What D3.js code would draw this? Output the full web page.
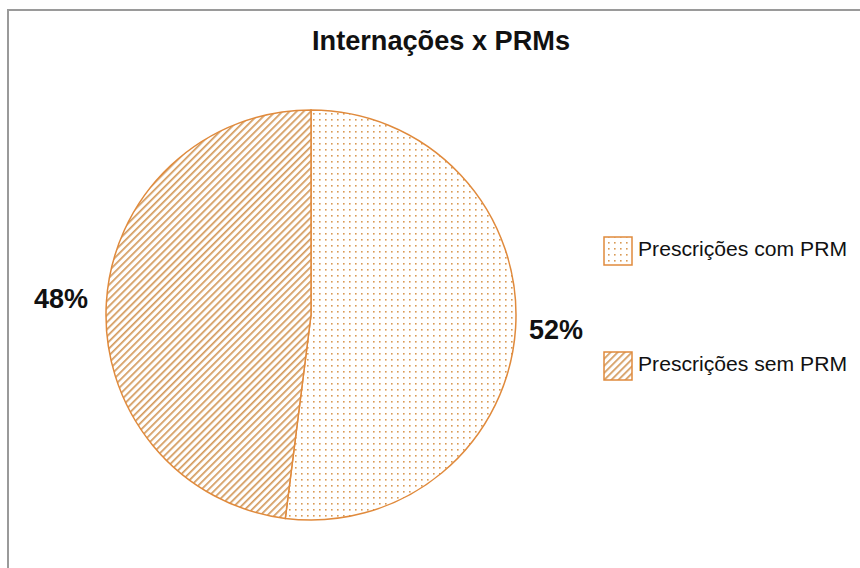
<!DOCTYPE html>
<html><head><meta charset="utf-8">
<script src="https://cdn.jsdelivr.net/npm/d3@7"></script>
<style>html,body{margin:0;padding:0;background:#fff;}svg{display:block;}</style>
</head><body>
<svg id="chart" width="860" height="568"></svg>
<script>
const title = "Internações x PRMs";
const categories = ["Prescrições com PRM", "Prescrições sem PRM"];
const values = [52, 48];
const patterns = ["dots", "hatch"];

const svg = d3.select("#chart");
const W = 860, H = 568;
const orange = "#e08a3c";
const font = "Liberation Sans, Arial, sans-serif";

const defs = svg.append("defs");
const pd = defs.append("pattern").attr("id","dots").attr("patternUnits","userSpaceOnUse")
  .attr("width",6).attr("height",6);
pd.append("rect").attr("width",6).attr("height",6).attr("fill","#fff");
pd.append("rect").attr("x",2).attr("y",2).attr("width",1.6).attr("height",1.6).attr("fill","#d99a55");
const ph = defs.append("pattern").attr("id","hatch").attr("patternUnits","userSpaceOnUse")
  .attr("width",5).attr("height",5).attr("patternTransform","rotate(45)");
ph.append("rect").attr("width",5).attr("height",5).attr("fill","#fff");
ph.append("rect").attr("x",0).attr("y",0).attr("width",1.7).attr("height",5).attr("fill","#d49a5c");

// frame
svg.append("rect").attr("x",8).attr("y",10).attr("width",W).attr("height",H)
  .attr("fill","#fff").attr("stroke","#9a9a9a").attr("stroke-width",2);

svg.append("text").attr("x",441).attr("y",50).attr("text-anchor","middle")
  .attr("font-family",font).attr("font-weight","bold")
  .attr("font-size",27).attr("fill","#111")
  .attr("textLength",258).attr("lengthAdjust","spacingAndGlyphs").text(title);

const cx = 311, cy = 315, r = 205;
const pie = d3.pie().sort(null).value(d => d);
const arcs = pie(values);
const arc = d3.arc().innerRadius(0).outerRadius(r);
const g = svg.append("g").attr("transform",`translate(${cx},${cy})`);
g.selectAll("path").data(arcs).enter().append("path")
  .attr("d",arc).attr("fill",(d,i)=>`url(#${patterns[i]})`)
  .attr("stroke",orange).attr("stroke-width",1.5);

const labelPos = [[556,332],[61,301]];
const total = d3.sum(values);
svg.selectAll("text.lbl").data(arcs).enter().append("text").attr("class","lbl")
  .attr("x",(d,i)=>labelPos[i][0]).attr("y",(d,i)=>labelPos[i][1])
  .attr("text-anchor","middle").attr("dominant-baseline","middle")
  .attr("font-family",font).attr("font-weight","bold")
  .attr("font-size",27).attr("fill","#111")
  .text(d => Math.round(d.data/total*100) + "%");

const lg = svg.append("g");
const ly = [251, 366];
categories.forEach((c,i)=>{
  lg.append("rect").attr("x",604).attr("y",ly[i]-14).attr("width",28).attr("height",28)
    .attr("fill",`url(#${patterns[i]})`).attr("stroke",orange).attr("stroke-width",1.5);
  lg.append("text").attr("x",638).attr("y",ly[i]).attr("dominant-baseline","middle")
    .attr("font-family",font).attr("font-size",20)
    .attr("textLength",209).attr("lengthAdjust","spacingAndGlyphs")
    .attr("fill","#111").text(c);
});
</script>
</body></html>
